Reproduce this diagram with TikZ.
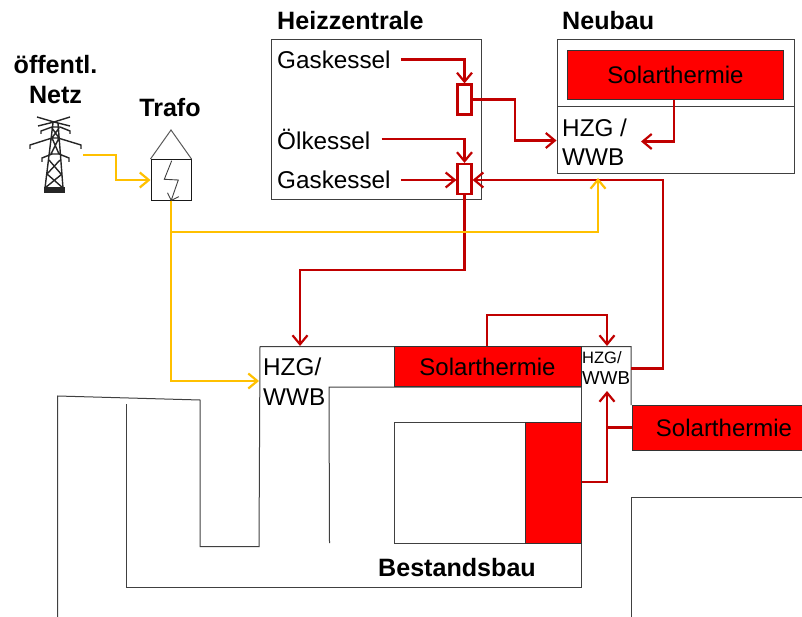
\documentclass[tikz,border=0pt]{standalone}
\usepackage{fontspec}
\setmainfont{Liberation Sans}
\usetikzlibrary{arrows.meta,positioning}
\definecolor{heatred}{HTML}{C00000}
\definecolor{powergold}{HTML}{FFC000}
\definecolor{solarred}{HTML}{FF0000}

\begin{document}
\begin{tikzpicture}[
  x=1pt,y=-1pt,
  wall/.style={draw=black!75,line width=1pt},
  txt/.style={anchor=west,inner sep=0pt,align=left,font=\fontsize{24.3}{29.5}\selectfont},
  head/.style={inner sep=0pt,align=center,font=\bfseries\fontsize{25.1}{30}\selectfont},
  solar/.style={draw=black!80,line width=1pt,fill=solarred,inner sep=0pt,font=\fontsize{24}{29}\selectfont},
  mixer/.style={draw=heatred,line width=2.2pt,fill=white,minimum width=14pt,minimum height=30pt,inner sep=0pt},
  heat/.style={-{Straight Barb[length=9pt,width=15pt]},draw=heatred,line width=2.2pt},
  heatline/.style={draw=heatred,line width=2.2pt},
  power/.style={-{Straight Barb[length=9pt,width=15pt]},draw=powergold,line width=2.2pt}
]
  \useasboundingbox (0,0) rectangle (802,617);
  % buildings
  \draw[wall] (57.5,617) -- (57.5,396) -- (200,400) -- (200,546.5) -- (259,546.5) -- (260,346.5) -- (631,346.5) -- (631,405);
  \draw[wall] (126.5,404) -- (126.5,587.5) -- (581,587.5) -- (581,346.5);
  \draw[wall] (329.5,543) -- (329,387) -- (581,387);
  \draw[wall] (802,497) -- (631.5,497) -- (631.5,617);
  \node[solar,minimum width=187pt,minimum height=40pt] (solarTop) at (487.5,366.5) {Solarthermie};
  \node[solar,minimum width=171pt,minimum height=45pt,anchor=west] (solarEast) at (632,427.5) {\hspace{12pt}Solarthermie};
  \node[wall,minimum width=131pt,minimum height=121pt,inner sep=0pt] (window) at (459.5,482.5) {};
  \node[solar,minimum width=56pt,minimum height=121pt] (solarWin) at (553,482.5) {};
  \node[txt] (hzgBest) at (263,381.5) {HZG/\\WWB};
  \node[inner sep=0pt,align=left,anchor=west,font=\fontsize{16.5}{21}\selectfont] (hzgSmall) at (582,368.5) {HZG/\\\fontsize{18.7}{21}\selectfont WWB};
  \node[head,anchor=west] (bestand) at (378,568) {Bestandsbau};
  % heating plant
  \node[wall,minimum width=210.5pt,minimum height=160pt,inner sep=0pt] (plant) at (376.5,120) {};
  \node[head,anchor=west] (plantName) at (277,21) {Heizzentrale};
  \node[txt] (gasA) at (277,59.5) {Gaskessel};
  \node[txt] (oil) at (277,139) {Ölkessel};
  \node[txt] (gasB) at (277,180) {Gaskessel};
  \node[mixer] (mixA) at (464.5,99.5) {};
  \node[mixer] (mixB) at (464.5,179) {};
  % new building
  \node[wall,minimum width=237pt,minimum height=67pt,inner sep=0pt] (hzgNeu) at (675.5,140.5) {};
  \node[wall,minimum width=237pt,minimum height=67pt,inner sep=0pt] (neuTop) at (675.5,73.5) {};
  \node[head,anchor=west] (neuName) at (562,21) {Neubau};
  \node[solar,minimum width=216pt,minimum height=49pt] (solarNeu) at (675.5,75) {Solarthermie};
  \node[txt] (hzgText) at (562,142) {HZG /\\WWB};
  % grid and transformer
  \node[head] (gridName) at (55.5,80) {öffentl.\\Netz};
  \node[head] (trafoName) at (170,108) {Trafo};
  \node[wall,draw=black!90,minimum width=40pt,minimum height=41pt,inner sep=0pt] (trafo) at (171,180) {};
  \draw[wall,draw=black!65] (trafo.north west) -- (171,130) -- (trafo.north east);
  \draw[-{Straight Barb[length=6pt,width=12pt]},draw=black!75,line width=.9pt] (171.7,160.7) -- (164.3,179.3) -- (178.3,180) -- (trafo.south);
  \coordinate (tower) at (83,155);
  \draw[draw=black!85,line width=1.4pt]
    (37,117) -- (54,122) -- (70,117) (38,126) -- (54,122) -- (70,126)
    (41,134) -- (41,131) -- (52,127) -- (60,127) -- (70,131) -- (70,134)
    (30,149) -- (30,145) -- (52,138) -- (58,138) -- (81,145) -- (81,149)
    (42,162) -- (42,158) -- (52,154) -- (59,154) -- (69,158) -- (69,162)
    (53,123) -- (45,188) (58,123) -- (63,188)
    (52,128) -- (59,138) (59,128) -- (52,138) (52,138) -- (59,154) (59,138) -- (51,154)
    (49,160) -- (61,174) (60,160) -- (47,174) (47,174) -- (63,188) (62,174) -- (45,188);
  \fill[black!85] (44,187) rectangle (64.5,193);
  % heat
  \draw[heat] ([xshift=10pt]gasA.east) -| (mixA.north);
  \draw[heat] ([xshift=11pt]oil.east) -| (mixB.north);
  \draw[heat] ([xshift=10pt]gasB.east) -- (gasB.east -| mixB.west);
  \draw[heat] (mixA.east) -- ++(42,0) |- (hzgNeu.west);
  \draw[heat] (solarNeu.south -| 674,0) |- (641,141.5);
  \draw[heat] (hzgSmall.east -| 631,0) -- (663,368.5) -- (663,180) -- (mixB.east |- gasB.east);
  \draw[heat] (mixB.south) -- (464.5,270) -- (300,270) -- (300,346);
  \draw[heat] (487,346) -- (487,315) -- (607,315) -- (607,346);
  \draw[heatline] (solarEast.west |- 0,427.5) -- (607,427.5);
  \draw[heat] (solarWin.east |- 0,482) -- (607,482) -- (607,391);
  % power
  \draw[power] (tower) -- (116,155) -- (116,180) -- (trafo.west);
  \draw[power] (trafo.south) -- (171,381) -- (259,381);
  \draw[power] (171,232) -- (598,232) -- (598,178);
\end{tikzpicture}
\end{document}
